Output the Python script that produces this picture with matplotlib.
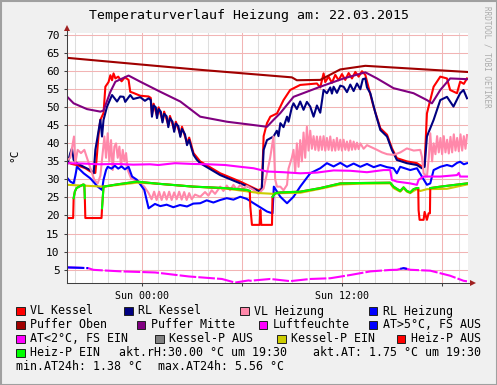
import numpy as np
import matplotlib.pyplot as plt
from matplotlib.patches import Rectangle
from matplotlib.lines import Line2D

# Zeitachse: Stunden relativ zu Sonntag 00:00 (Sa 19:30 .. So 19:30)
title = 'Temperaturverlauf Heizung am: 22.03.2015'
x_ticks = [0, 6, 12, 18]
x_labels = ['Sun 00:00', '', 'Sun 12:00', '']
y_ticks = list(range(5, 75, 5))

# --- Messreihen ---
vl_kessel_t = [-4.43, -4.2, -3.9, -3.37, -3.07, -2.77, -2.67, -2.57, -2.47, -2.28, -2.17, -1.98, -1.87, -1.77,
               -1.68, -1.57, -1.40, -1.2, -1.0, -0.78, -0.68, -0.5, -0.08, 0.42, 0.55, 0.62, 0.72, 0.92, 1.02,
               1.25, 1.35, 1.6, 1.7, 1.95, 2.05, 2.32, 2.42, 2.72, 2.85, 3.11, 3.51, 4.71, 5.91, 7.0, 7.2, 7.31,
               7.51, 7.71, 8.11, 8.5, 8.9, 9.5, 10.5, 10.7, 10.9, 11.0, 11.2, 11.4, 11.6, 11.8, 12.0, 12.2, 12.4,
               12.6, 12.8, 13.0, 13.2, 13.4, 13.89, 14.3, 14.7, 14.99, 15.29, 15.89, 16.49, 16.79, 16.95, 17.09,
               17.49, 17.89, 18.29, 18.48, 18.89, 19.08, 19.3, 19.49]
vl_kessel_v = [34.8, 34.3, 34.0, 33.1, 32.2, 31.8, 37.0, 42.8, 46.5, 48.4, 55.7, 57.0, 58.9, 57.5,
               59.4, 58.0, 58.5, 57.2, 58.3, 57.6, 54.3, 54.0, 53.2, 53.0, 52.6, 48.0, 51.0, 47.6, 50.0,
               46.4, 48.8, 45.1, 47.6, 43.8, 46.0, 42.4, 44.6, 40.1, 41.6, 37.3, 35.0, 31.7, 29.4, 27.0, 27.5, 42.0,
               45.6, 47.4, 48.3, 52.0, 54.8, 56.2, 56.6, 55.5, 59.4, 57.0, 58.5, 56.8, 59.0, 57.5, 59.2, 57.6, 59.5,
               58.0, 59.8, 58.5, 60.0, 59.0, 50.2, 44.2, 42.4, 38.7, 35.9, 35.0, 34.5, 33.6, 34.0, 48.3,
               55.7, 58.5, 58.0, 54.8, 53.9, 57.1, 56.5, 58.0]

rl_kessel_t = [-4.43, -4.27, -4.17, -4.07, -3.87, -3.47, -3.07, -2.87, -2.77, -2.67, -2.57, -2.47, -2.37, -2.28,
               -2.07, -1.77, -1.47, -1.28, -1.08, -0.98, -0.68, -0.5, -0.08, 0.2, 0.42, 0.55, 0.62, 0.72, 0.85,
               0.92, 1.02, 1.15, 1.25, 1.35, 1.5, 1.6, 1.7, 1.85, 1.95, 2.05, 2.2, 2.32, 2.42, 2.6, 2.72, 2.85,
               3.0, 3.11, 3.3, 3.51, 4.71, 5.91, 7.11, 7.2, 7.31, 7.51, 7.9, 8.1, 8.2, 8.31, 8.5, 8.71, 8.8, 9.0,
               9.1, 9.3, 9.5, 9.7, 9.9, 10.1, 10.3, 10.5, 10.7, 10.9, 11.1, 11.3, 11.4, 11.5, 11.7, 11.9, 12.1,
               12.3, 12.5, 12.7, 12.9, 13.1, 13.25, 13.4, 13.5, 13.7, 14.01, 14.3, 14.7, 14.99, 15.29, 15.89,
               16.49, 16.79, 16.95, 17.09, 17.49, 17.89, 18.29, 18.68, 19.08, 19.28, 19.49]
rl_kessel_v = [34.5, 37.3, 38.6, 35.4, 34.5, 33.5, 32.6, 31.7, 38.2, 40.9, 43.7, 46.5, 41.9, 46.5,
               50.2, 53.4, 51.6, 53.0, 52.9, 51.5, 53.4, 52.3, 52.8, 51.8, 52.5, 52.0, 47.4, 50.5, 50.0,
               47.0, 49.5, 48.8, 45.8, 48.2, 47.5, 44.5, 47.0, 46.0, 43.2, 45.5, 44.8, 41.8, 44.0, 42.5, 39.5, 41.0,
               38.5, 36.8, 35.5, 34.5, 31.2, 28.9, 26.6, 27.5, 38.2, 40.9, 41.9, 43.5, 42.0, 45.6, 44.5, 47.4, 46.0, 50.0,
               51.1, 49.5, 51.6, 49.3, 51.5, 50.2, 47.4, 50.5, 48.5, 54.8, 53.9, 55.5, 53.8, 55.7, 54.0, 56.0, 55.7,
               54.2, 56.3, 54.5, 56.6, 55.0, 57.8, 58.0, 55.5, 53.9, 48.3, 43.7, 41.9, 38.2, 35.4, 34.5,
               34.0, 33.1, 33.5, 41.9, 46.5, 52.0, 52.9, 50.2, 53.9, 54.8, 52.5]

vl_heizung_t = [-4.43, -4.27, -4.05, -3.97, -3.83, -3.63, -3.43, -3.23, -3.03, -2.83, -2.63, -2.47, -2.33, -2.23,
                -2.13, -2.03, -1.93, -1.83, -1.73, -1.63, -1.53, -1.43, -1.33, -1.23, -1.13, -1.03, -0.93, -0.83,
                -0.63, -0.23, 0.16, 0.42, 0.6, 0.75, 0.9, 1.05, 1.2, 1.35, 1.5, 1.65, 1.8, 1.95, 2.1, 2.25, 2.4,
                2.55, 2.7, 2.85, 3.0, 3.2, 3.51, 3.8, 4.0, 4.2, 4.4, 4.71, 4.9, 5.1, 5.3, 5.5, 5.7, 5.91, 6.1, 6.3,
                6.71, 7.0, 7.31, 7.51, 7.7, 7.9, 8.0, 8.11, 8.31, 8.5, 8.71, 8.8, 9.0, 9.1, 9.2, 9.3, 9.4, 9.5,
                9.6, 9.7, 9.8, 9.9, 10.0, 10.1, 10.2, 10.3, 10.4, 10.5, 10.6, 10.7, 10.8, 10.9, 11.0, 11.1, 11.2,
                11.3, 11.4, 11.5, 11.6, 11.7, 11.8, 11.9, 12.0, 12.1, 12.2, 12.3, 12.4, 12.5, 12.6, 12.7, 12.8,
                12.9, 13.0, 13.1, 13.3, 13.5, 14.1, 14.4, 14.7, 15.09, 15.5, 15.89, 16.3, 16.69, 16.79, 16.89,
                17.09, 17.2, 17.29, 17.4, 17.49, 17.6, 17.7, 17.8, 17.9, 18.0, 18.1, 18.2, 18.3, 18.4, 18.5,
                18.6, 18.7, 18.8, 18.9, 19.0, 19.1, 19.2, 19.3, 19.4, 19.49]
vl_heizung_v = [35.4, 36.0, 41.9, 34.5, 38.2, 37.3, 38.2, 35.4, 32.6, 29.9, 28.9, 31.0, 37.3, 41.9,
                36.0, 42.8, 35.0, 40.9, 32.6, 39.1, 40.0, 36.0, 39.1, 33.5, 38.2, 35.0, 37.3, 32.6,
                30.3, 29.4, 28.0, 26.2, 24.5, 26.6, 24.3, 26.6, 24.3, 26.5, 24.4, 26.6, 24.3, 26.4, 24.5, 26.6, 24.4,
                26.5, 24.3, 26.2, 24.5, 25.8, 25.2, 26.5, 25.5, 27.0, 26.0, 28.0, 26.8, 28.3, 27.0, 28.5, 27.2, 28.5, 27.5, 28.2,
                27.1, 26.0, 27.5, 31.7, 36.0, 41.9, 30.0, 28.0, 28.0, 27.0, 28.5, 33.0, 36.0, 38.2, 32.0, 40.0, 33.5, 40.9,
                35.0, 43.0, 36.0, 44.6, 38.0, 43.5, 38.5, 42.0, 38.2, 41.9, 38.0, 41.9, 38.2, 42.0, 38.0, 41.5, 38.2,
                41.9, 38.0, 41.0, 38.0, 41.5, 38.2, 41.0, 38.0, 41.0, 38.2, 40.5, 38.0, 40.8, 38.2, 40.5, 38.3,
                40.2, 38.4, 40.0, 38.5, 39.5, 38.2, 37.5, 37.0, 36.8, 37.5, 38.6, 38.0, 38.2, 36.3, 31.7,
                30.8, 36.0, 42.8, 35.0, 40.0, 37.0, 42.0, 37.5, 41.5, 37.0, 42.0, 37.5, 41.0, 37.2, 41.8,
                37.5, 42.5, 38.0, 41.5, 37.8, 42.5, 38.0, 42.0, 38.5, 42.3]

rl_heizung_t = [-4.43, -4.27, -4.07, -3.97, -3.87, -3.67, -3.47, -3.07, -2.63, -2.37, -2.28, -2.13, -2.03, -1.8,
                -1.6, -1.4, -1.2, -1.0, -0.78, -0.57, -0.28, 0.16, 0.42, 0.8, 1.12, 1.5, 1.9, 2.3, 2.72, 3.1,
                3.51, 3.9, 4.3, 4.71, 5.1, 5.5, 5.91, 6.3, 6.71, 7.51, 7.84, 7.92, 8.31, 8.71, 9.1, 9.5, 10.1,
                10.7, 11.1, 11.5, 11.9, 12.3, 12.7, 13.1, 13.5, 13.9, 14.3, 14.7, 15.09, 15.29, 15.49, 16.09,
                16.49, 16.79, 17.09, 17.29, 17.49, 17.89, 18.29, 18.6, 18.9, 19.08, 19.3, 19.49]
rl_heizung_v = [30.3, 29.4, 28.9, 31.0, 33.5, 32.6, 31.7, 30.3, 28.0, 27.1, 29.9, 32.6, 33.5, 33.0,
                33.8, 33.0, 33.6, 32.8, 33.5, 30.8, 29.9, 27.1, 22.0, 23.2, 22.6, 23.0, 22.3, 22.9, 22.5, 23.3,
                23.4, 24.2, 23.6, 24.3, 24.8, 24.4, 25.2, 24.6, 23.4, 21.1, 20.6, 28.0, 25.2, 23.4, 25.2, 28.0, 31.7,
                33.1, 34.5, 33.6, 34.6, 33.5, 34.4, 33.5, 34.3, 33.4, 34.0, 33.4, 33.1, 31.7, 33.5, 32.6,
                33.1, 30.8, 28.5, 28.9, 32.6, 33.5, 34.0, 33.6, 34.6, 34.9, 34.2, 34.5]

puffer_oben_t = [-4.43, 3.22, 9.0, 9.3, 10.7, 11.9, 13.4, 19.49]
puffer_oben_v = [63.7, 60.5, 58.3, 57.5, 57.6, 60.5, 61.5, 59.8]

puffer_mitte_t = [-4.43, -4.07, -3.27, -2.47, -2.28, -1.87, -1.57, -0.78, -0.08, 1.12, 2.32, 3.51, 5.11, 6.5,
                  7.51, 7.9, 8.31, 9.1, 10.7, 12.1, 13.4, 14.1, 15.09, 16.29, 17.09, 17.39, 17.89, 18.48, 19.49]
puffer_mitte_v = [52.8, 51.1, 49.5, 48.8, 49.1, 54.3, 57.1, 58.8, 57.1, 54.3, 51.6, 47.4, 46.0, 45.2,
                  44.6, 46.5, 48.4, 52.9, 55.7, 58.0, 59.7, 58.0, 55.3, 53.9, 52.0, 51.1, 54.8, 58.0, 57.8]

luftfeuchte_t = [-4.43, -3.5, -2.5, -1.5, -0.5, 0.5, 1.0, 2.0, 3.0, 4.0, 5.0, 5.91, 6.71, 7.51, 8.5, 9.5, 10.5,
                 11.5, 12.5, 13.5, 14.5, 14.89, 14.99, 15.29, 16.09, 16.49, 16.59, 16.89, 17.89, 18.89, 19.0,
                 19.08, 19.49]
luftfeuchte_v = [34.5, 34.4, 34.2, 34.3, 34.1, 34.2, 34.0, 34.5, 34.3, 34.2, 34.0, 33.5, 33.1, 32.2, 32.0, 31.7, 31.9,
                 32.5, 32.4, 32.0, 32.6, 32.6, 29.9, 29.4, 28.9, 28.5, 29.9, 30.8, 30.8, 31.2, 31.8,
                 30.8, 30.8]

aussen_t = [-4.43, -3.7, -3.2, -2.9, -2.77, -1.2, 0.82, 2.82, 4.81, 5.6, 6.41, 6.51, 7.71, 8.9, 10.1, 11.3,
            12.5, 13.7, 14.89, 15.3, 15.49, 15.69, 15.89, 16.1, 17.29, 18.48, 19.28, 19.49]
aussen_v = [5.6, 5.5, 5.4, 4.95, 4.9, 4.5, 4.2, 3.1, 2.4, 1.4, 2.0, 1.9, 2.4, 1.8, 2.4, 2.6,
            3.5, 4.5, 4.9, 4.95, 5.2, 5.4, 5.2, 4.95, 4.7, 3.3, 1.9, 1.75]

kessel_p_t = [-4.43, -2.28, -0.28, 1.0, 3.11, 5.0, 7.11, 7.9, 8.31, 9.5, 10.7, 11.9, 13.0, 14.89, 15.09, 15.29,
              15.49, 15.69, 15.89, 16.09, 16.29, 16.49, 16.69, 17.09, 18.29, 19.49]
kessel_p_v = [28.5, 28.0, 29.1, 28.8, 28.0, 27.5, 26.2, 26.0, 26.2, 26.3, 27.4, 28.6, 28.8, 28.9, 27.6, 27.1,
              26.6, 27.6, 26.6, 26.2, 26.8, 27.3, 26.8, 27.3, 27.4, 28.6]

heiz_p_t = [-4.43, -4.10, -4.07, -4.0, -3.9, -3.5, -3.43, -3.40, -3.37, -2.40, -2.37, -2.28, -1.5, -0.28, 1.0,
            3.11, 5.0, 6.31, 6.48, 6.51, 6.61, 7.07, 7.11, 7.17, 7.81, 7.84, 8.01, 8.31, 9.5, 10.7, 11.9, 13.0,
            14.89, 15.09, 15.29, 15.49, 15.69, 15.89, 16.09, 16.29, 16.49, 16.57, 16.59, 16.65, 16.89, 16.95,
            17.09, 17.19, 17.27, 17.29, 17.89, 19.49]
heiz_p_v = [19.3, 19.3, 24.8, 26.6, 27.6, 28.6, 28.5, 24.8, 19.3, 19.3, 22.0, 28.0, 28.6, 29.4, 28.8,
            28.0, 27.6, 27.1, 26.8, 22.5, 17.4, 17.4, 21.5, 17.4, 17.4, 25.2, 26.2, 26.4, 26.6, 27.6, 28.9, 29.0,
            29.1, 28.0, 27.4, 26.8, 27.8, 26.8, 26.4, 27.3, 27.6, 27.6, 21.5, 18.8, 18.8, 21.0,
            18.8, 20.6, 20.6, 27.6, 28.0, 28.9]
heiz_p_ein = [0, 0, 1, 1, 1, 1, 1, 1, 0, 0, 1, 1, 1, 1, 1,
              1, 1, 1, 1, 0, 0, 0, 0, 0, 0, 1, 1, 1, 1, 1, 1, 1,
              1, 1, 1, 1, 1, 1, 1, 1, 1, 1, 0, 0, 0, 0,
              0, 0, 0, 1, 1, 1]

rh_akt = 30.00
at_akt = 1.75
at_min = 1.38
at_max = 5.56

legend_names = ['VL Kessel', 'RL Kessel', 'VL Heizung', 'RL Heizung',
                'Puffer Oben', 'Puffer Mitte', 'Luftfeuchte', 'AT>5°C, FS AUS',
                'AT<2°C, FS EIN', 'Kessel-P AUS', 'Kessel-P EIN', 'Heiz-P AUS',
                'Heiz-P EIN']
legend_colors = ['#FF0000', '#000080', '#FF88AA', '#0000FF',
                 '#A00000', '#800080', '#FF00FF', '#0000FF',
                 '#FF00FF', '#808080', '#CCCC00', '#FF0000',
                 '#00FF00']

MONO = 'DejaVu Sans Mono'
W, H = 497, 385


def fx(px):
    return px / W


def fy(py):
    return 1 - py / H


fig = plt.figure(figsize=(W / 100, H / 100), dpi=100, facecolor='#F0F0F0')
ax = fig.add_axes([fx(67.3), fy(283.3), (468 - 67.3) / W, (283.3 - 33) / H])
ax.set_facecolor('white')
ax.set_xlim(-4.45, 19.55)
ax.set_ylim(1.2, 70.6)

# Gitter
for h in range(-4, 20):
    col = '#F2B4B4' if h % 6 == 0 else '#DEDEDE'
    ax.axvline(h, color=col, lw=0.75, zorder=0)
for v in y_ticks:
    ax.axhline(v, color='#F2B4B4', lw=0.75, zorder=0)

lw = 1.5
ax.plot(vl_kessel_t, vl_kessel_v, color='#FF0000', lw=lw)
ax.plot(rl_kessel_t, rl_kessel_v, color='#000080', lw=lw)
ax.plot(vl_heizung_t, vl_heizung_v, color='#FF88AA', lw=lw)
ax.plot(rl_heizung_t, rl_heizung_v, color='#0000FF', lw=lw)
ax.plot(puffer_oben_t, puffer_oben_v, color='#A00000', lw=lw)
ax.plot(puffer_mitte_t, puffer_mitte_v, color='#800080', lw=lw)
ax.plot(luftfeuchte_t, luftfeuchte_v, color='#FF00FF', lw=lw)

at_v = np.array(aussen_v)
ax.plot(aussen_t, at_v, color='#FF00FF', lw=lw, ls=(0, (8, 1)))
ax.plot(aussen_t, np.where(at_v > 5, at_v, np.nan), color='#0000FF', lw=lw, ls=(0, (8, 1)))

ax.plot(kessel_p_t, kessel_p_v, color='#CCCC00', lw=lw)
hp_v = np.array(heiz_p_v)
hp_on = np.array(heiz_p_ein) == 1
ax.plot(heiz_p_t, hp_v, color='#FF0000', lw=lw)
ax.plot(heiz_p_t, np.where(hp_on, hp_v, np.nan), color='#00FF00', lw=lw)

# Achsen
for s in ['top', 'right']:
    ax.spines[s].set_visible(False)
for s in ['left', 'bottom']:
    ax.spines[s].set_color('#404040')
    ax.spines[s].set_linewidth(0.75)
ax.set_xticks(x_ticks)
ax.set_xticklabels(x_labels, family=MONO, fontsize=7.2)
ax.set_yticks(y_ticks)
ax.set_yticklabels([str(v) for v in y_ticks], family=MONO, fontsize=8)
ax.tick_params(axis='both', length=2, width=0.75, color='#404040', pad=3.5)

# Achsenpfeile
fig.add_artist(Line2D([fx(67.3), fx(67.3)], [fy(33), fy(28)], color='#404040', lw=0.75))
fig.add_artist(Line2D([fx(468), fx(472)], [fy(283.3), fy(283.3)], color='#404040', lw=0.75))
fig.add_artist(Line2D([fx(67.3)], [fy(28)], marker='^', ms=4, color='#A02020', mew=0))
fig.add_artist(Line2D([fx(473)], [fy(283.3)], marker='>', ms=4, color='#A02020', mew=0))

# Texte
fig.text(fx(249), fy(16), title, ha='center', va='center', family=MONO, fontsize=9.5)
fig.text(fx(14), fy(155), '°C', ha='center', va='center', rotation=90, family=MONO, fontsize=8)
fig.text(fx(487.5), fy(6), 'RRDTOOL / TOBI OETIKER', ha='center', va='top', rotation=270,
         family=MONO, fontsize=5.5, color='#ABABAB')

# Legende
row_y = [311, 325, 339, 353, 367]
box_x = [[16, 124, 240, 368.7], [16, 136.7, 258.7, 368.7], [16, 155.3, 277.3, 396.7], [16]]
i = 0
for r, xs in enumerate(box_x):
    for x in xs:
        fig.add_artist(Rectangle((fx(x), fy(row_y[r] + 4.3)), 8.7 / W, 8.7 / H,
                                 transform=fig.transFigure, facecolor=legend_colors[i],
                                 edgecolor='#202020', lw=0.7))
        fig.text(fx(x + 14), fy(row_y[r]), legend_names[i], ha='left', va='center',
                 family=MONO, fontsize=8.4)
        i += 1

fig.text(fx(119), fy(row_y[3]), 'akt.rH:%.2f °C um 19:30' % rh_akt, ha='left', va='center',
         family=MONO, fontsize=8.4)
fig.text(fx(312.7), fy(row_y[3]), 'akt.AT: %.2f °C um 19:30' % at_akt, ha='left', va='center',
         family=MONO, fontsize=8.4)
fig.text(fx(16), fy(row_y[4]), 'min.AT24h: %.2f °C' % at_min, ha='left', va='center',
         family=MONO, fontsize=8.4)
fig.text(fx(158.3), fy(row_y[4]), 'max.AT24h: %.2f °C' % at_max, ha='left', va='center',
         family=MONO, fontsize=8.4)

# Rahmen
fig.add_artist(Rectangle((0.5 / W, 0.5 / H), 1 - 1 / W, 1 - 1 / H, transform=fig.transFigure,
                         fill=False, edgecolor='#A0A0A0', lw=1.5))

fig.savefig('out.png', dpi=100, facecolor=fig.get_facecolor())
